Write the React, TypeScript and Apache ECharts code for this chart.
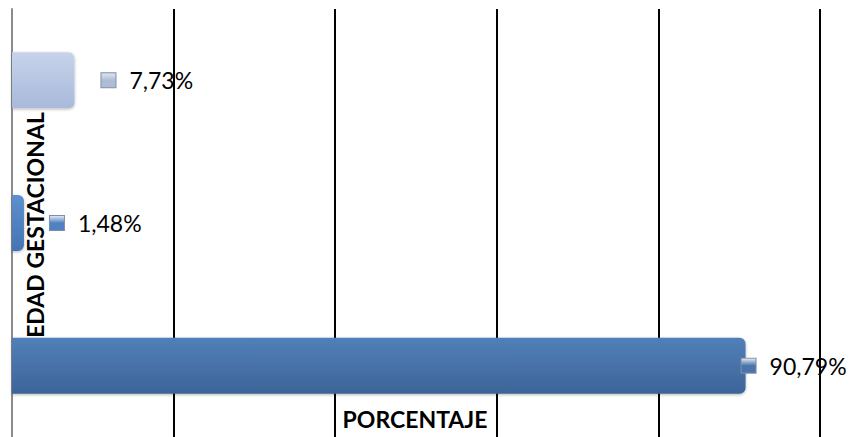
import React, { useEffect, useRef } from "react";
import * as echarts from "echarts";

const categories = ["Grupo A", "Grupo B", "Grupo C"];
const values = [90.79, 1.48, 7.73];
const valueLabels = ["90,79%", "1,48%", "7,73%"];
const xTicks = [0, 20, 40, 60, 80, 100];

const barColors = [
  ["#5180B8", "#3D6499"],
  ["#5E8FCF", "#4473B3"],
  ["#C7D3EA", "#A8B9DA"],
];
const markerColors = ["#4A74AA", "#4F82C3", "#AEBCD6"];
const labelDistances = [-4, 26, 27];

export default function App() {
  const ref = useRef<HTMLDivElement>(null);
  useEffect(() => {
    if (!ref.current) return;
    const chart = echarts.init(ref.current, null, { renderer: "svg" });
    const data = values.map((v, i) => ({
      value: v,
      itemStyle: {
        color: new echarts.graphic.LinearGradient(0, 0, 0, 1, [
          { offset: 0, color: barColors[i][0] },
          { offset: 1, color: barColors[i][1] },
        ]),
      },
      label: {
        distance: labelDistances[i],
        formatter: "{m|}{s|}{v|" + valueLabels[i] + "}",
        rich: {
          m: {
            width: 14,
            height: 14,
            backgroundColor: new echarts.graphic.LinearGradient(0, 0, 0, 1, [
              { offset: 0, color: "#E0E6F0" },
              { offset: 0.5, color: markerColors[i] },
              { offset: 1, color: markerColors[i] },
            ]),
            borderColor: "#7F8FAA",
            borderWidth: 1,
          },
          s: { width: 14 },
          v: {
            fontSize: 23,
            fontFamily: "Lato",
            color: "#000",
          },
        },
      },
    }));
    chart.setOption({
      animation: false,
      grid: { left: 12, right: 31, top: 9, bottom: -1, containLabel: false },
      xAxis: {
        type: "value",
        min: xTicks[0],
        max: xTicks[xTicks.length - 1],
        interval: 20,
        axisLabel: { show: false },
        axisLine: { show: false },
        axisTick: { show: false },
        splitLine: {
          show: true,
          showMinLine: false,
          lineStyle: { color: "#000", width: 2 },
        },
      },
      yAxis: {
        type: "category",
        data: categories,
        axisLabel: { show: false },
        axisTick: { show: false },
        axisLine: { show: true, lineStyle: { color: "#8C8C8C", width: 2 } },
      },
      series: [
        {
          type: "bar",
          data,
          barWidth: 56,
          itemStyle: {
            borderRadius: [0, 6, 6, 0],
            shadowColor: "rgba(0,0,0,0.3)",
            shadowBlur: 3,
            shadowOffsetY: 1,
          },
          label: { show: true, position: "right" },
        },
      ],
      graphic: [
        {
          type: "text",
          x: 35,
          y: 225,
          rotation: Math.PI / 2,
          style: {
            text: "EDAD GESTACIONAL",
            fontSize: 23,
            fontWeight: "bold",
            fontFamily: "Lato",
            fill: "#000",
            align: "center",
            verticalAlign: "middle",
          },
        },
        {
          type: "text",
          x: 415,
          y: 419,
          style: {
            text: "PORCENTAJE",
            fontSize: 23,
            fontWeight: "bold",
            fontFamily: "Lato",
            fill: "#000",
            align: "center",
            verticalAlign: "middle",
          },
        },
      ],
    });
    return () => chart.dispose();
  }, []);
  return <div ref={ref} style={{ width: 851, height: 437, position: "absolute", left: 0, top: 0 }} />;
}
